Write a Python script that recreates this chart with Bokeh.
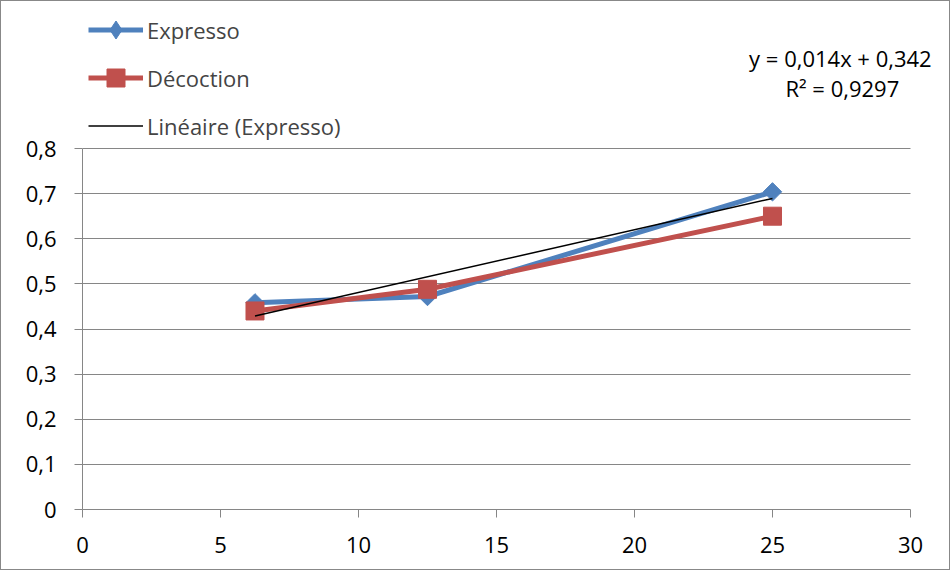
import numpy as np
from bokeh.plotting import figure
from bokeh.models import (Legend, LegendItem, Label, FixedTicker, CustomJSTickFormatter, Range1d)
from bokeh.embed import file_html
from bokeh.resources import INLINE

# Data
x_vals = [6.25, 12.5, 25]
expresso = [0.458, 0.472, 0.704]
decoction = [0.440, 0.488, 0.650]
x_ticks = [0, 5, 10, 15, 20, 25, 30]
y_ticks = [0, 0.1, 0.2, 0.3, 0.4, 0.5, 0.6, 0.7, 0.8]
equation_text = "y = 0,014x + 0,342"
r2_text = "R\u00b2 = 0,9297"

BLUE = "#4F81BD"
RED = "#C0504D"
GRID = "#868686"
FONT = "Open Sans"
FS = "22px"

# Frame spans the whole canvas above the x axis; axes/grid are bounded to the data area
p = figure(width=950, height=570, output_backend="svg", toolbar_location=None,
           x_range=Range1d(0, 31.486), y_range=Range1d(0, 1.1258),
           min_border_left=81, min_border_right=0, min_border_top=0, min_border_bottom=62)
p.styles = {"border": "1px solid #888888"}
p.outline_line_color = None
p.background_fill_color = "white"
p.border_fill_color = "white"

# Grid
p.xgrid.grid_line_color = None
p.ygrid.grid_line_color = GRID
p.ygrid.grid_line_width = 1
p.ygrid.ticker = FixedTicker(ticks=y_ticks)
p.ygrid.bounds = (0, 0.8)
p.ygrid.cross_bounds = (0, 30)

# Axes
p.xaxis.ticker = FixedTicker(ticks=x_ticks)
p.yaxis.ticker = FixedTicker(ticks=y_ticks)
p.xaxis.bounds = (0, 30)
p.yaxis.bounds = (0, 0.8)
p.yaxis.formatter = CustomJSTickFormatter(code="""
    if (tick == 0) return "0";
    return tick.toFixed(1).replace(".", ",");
""")
for ax in (p.xaxis[0], p.yaxis[0]):
    ax.axis_line_color = GRID
    ax.major_tick_line_color = GRID
    ax.major_tick_out = 8
    ax.major_tick_in = 0
    ax.minor_tick_line_color = None
    ax.major_label_text_font = FONT
    ax.major_label_text_font_size = FS
    ax.major_label_text_color = "black"
p.yaxis.major_label_standoff = 18
p.xaxis.major_label_standoff = 19

# Series
l1 = p.line(x_vals, expresso, line_color=BLUE, line_width=5)
m1 = p.scatter(x_vals, expresso, marker="square", size=13, angle=np.pi / 4,
               fill_color=BLUE, line_color=BLUE)
m1_key = p.scatter(x_vals, expresso, marker="diamond", size=18,
                   fill_color=BLUE, line_color=BLUE, visible=False)
l2 = p.line(x_vals, decoction, line_color=RED, line_width=5)
m2 = p.scatter(x_vals, decoction, marker="square", size=18,
               fill_color=RED, line_color=RED)

# Linear trend (least squares on Expresso)
slope, intercept = np.polyfit(x_vals, expresso, 1)
tx = [min(x_vals), max(x_vals)]
ty = [slope * t + intercept for t in tx]
l3 = p.line(tx, ty, line_color="black", line_width=1.5)

legend = Legend(items=[
    LegendItem(label="Expresso", renderers=[l1, m1_key]),
    LegendItem(label="D\u00e9coction", renderers=[l2, m2]),
    LegendItem(label="Lin\u00e9aire (Expresso)", renderers=[l3]),
], location=(6, 361), orientation="vertical")
legend.background_fill_alpha = 0
legend.border_line_color = None
legend.padding = 0
legend.margin = 0
legend.spacing = 3
legend.glyph_width = 55
legend.glyph_height = 45
legend.label_height = 45
legend.label_standoff = 4
legend.label_text_font = FONT
legend.label_text_font_size = FS
legend.label_text_baseline = "middle"
p.add_layout(legend, "center")

lab1 = Label(x=27.46, y=1.001, text=equation_text,
             text_align="center", text_baseline="middle",
             text_font=FONT, text_font_size=FS, text_color="black")
lab2 = Label(x=27.53, y=0.934, text=r2_text,
             text_align="center", text_baseline="middle",
             text_font=FONT, text_font_size=FS, text_color="black")
p.add_layout(lab1)
p.add_layout(lab2)

open("out.html", "w").write(file_html(p, INLINE))
